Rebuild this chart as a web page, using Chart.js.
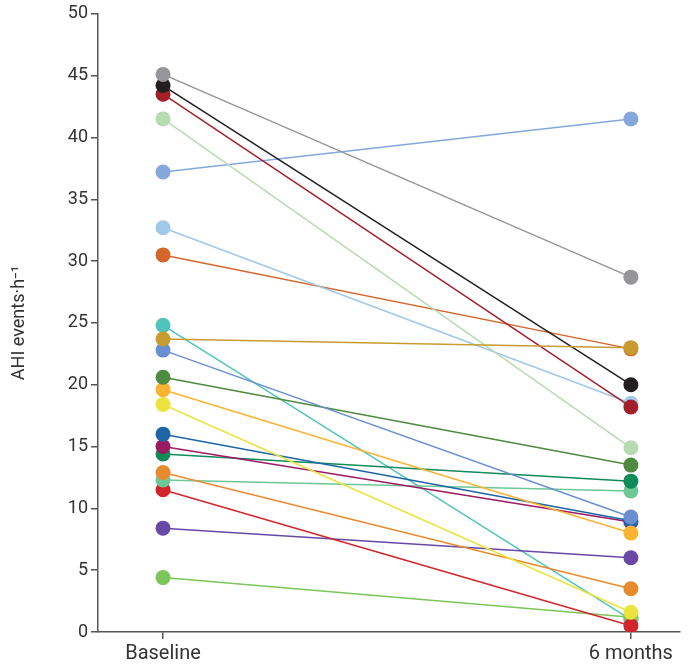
<!DOCTYPE html>
<html>
<head>
<meta charset="utf-8">
<script src="https://cdn.jsdelivr.net/npm/chart.js@4"></script>
<style>
  html, body { margin: 0; padding: 0; background: #fff; }
  #wrap { width: 692px; height: 669px; }
</style>
</head>
<body>
<div id="wrap"><canvas id="ahiChart"></canvas></div>
<script>
var categories = ["Baseline", "6 months"];
var yTicks = [0, 5, 10, 15, 20, 25, 30, 35, 40, 45, 50];

var baseline  = [45.1, 44.2, 43.5, 41.5, 37.2, 32.7, 30.5, 24.8, 23.7, 22.8, 20.6, 19.6, 18.4, 16.0, 15.0, 14.4, 12.9, 12.3, 11.5, 8.4, 4.4];
var sixMonths = [28.7, 20.0, 18.2, 14.9, 41.5, 18.5, 22.9, 1.0, 23.0, 9.3, 13.5, 8.0, 1.6, 9.0, 8.9, 12.2, 3.5, 11.4, 0.5, 6.0, 1.2];
var colors = ["#96969a", "#231f20", "#a3202a", "#b7dbb0", "#84a8dc", "#a0c8e8", "#d5662b", "#4fc4bd", "#c89b2f", "#6a8fd0", "#4e8a3f", "#fbb431", "#ece43d", "#1e65a6", "#9b1b63", "#0f8b5a", "#e88b2e", "#6fc796", "#d2252c", "#6848a6", "#7cc55a"];

var datasets = baseline.map(function (b, i) {
  var ord = 0;
  if (i === 7) ord = 1;   // teal sits underneath at 6 months
  if (i === 8) ord = -1;  // gold covers orange at 6 months
  return {
    data: [{ x: 0, y: b }, { x: 1, y: sixMonths[i] }],
    borderColor: colors[i],
    backgroundColor: colors[i],
    pointBackgroundColor: colors[i],
    pointBorderWidth: 0,
    pointRadius: 7.5,
    borderWidth: 1.5,
    fill: false,
    order: ord
  };
});

var ctx = document.getElementById("ahiChart").getContext("2d");
var chart = new Chart(ctx, {
  type: "line",
  data: { datasets: datasets },
  options: {
    responsive: true,
    maintainAspectRatio: false,
    animation: false,
    layout: { padding: { top: 4, right: 12, left: 0, bottom: 0 } },
    plugins: { legend: { display: false }, tooltip: { enabled: false } },
    scales: {
      x: {
        type: "linear",
        min: -0.139,
        max: 1.105,
        afterBuildTicks: function (scale) {
          scale.ticks = [{ value: 0 }, { value: 1 }];
        },
        afterFit: function (scale) { scale.height = 37; },
        ticks: {
          callback: function (v) { return categories[v]; },
          color: "#333",
          font: { family: "Roboto", size: 20 },
          padding: 3,
          maxRotation: 0
        },
        grid: { drawOnChartArea: false, drawTicks: true, tickLength: 7, color: "#555", lineWidth: 1.5 },
        border: { color: "#555", width: 1.5 }
      },
      y: {
        min: 0,
        max: 50,
        afterBuildTicks: function (scale) {
          scale.ticks = yTicks.map(function (v) { return { value: v }; });
        },
        afterFit: function (scale) { scale.width = 98; },
        ticks: {
          color: "#333",
          font: { family: "Roboto", size: 18 },
          padding: 3
        },
        grid: { drawOnChartArea: false, drawTicks: true, tickLength: 7, color: "#555", lineWidth: 1.5 },
        border: { color: "#555", width: 1.5 },
        title: {
          display: true,
          text: "AHI events\u00b7h\u207b\u00b9",
          color: "#333",
          font: { family: "Roboto", size: 18 },
          padding: { top: 9, bottom: 10 }
        }
      }
    }
  }
});
</script>
</body>
</html>
